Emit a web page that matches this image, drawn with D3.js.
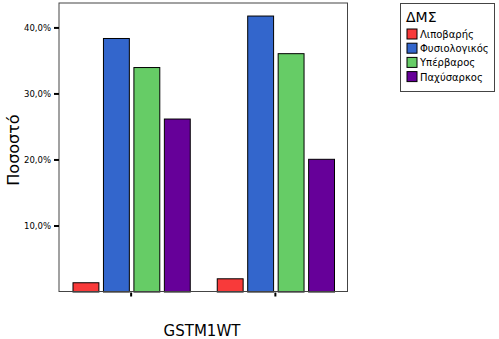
<!DOCTYPE html>
<html>
<head>
<meta charset="utf-8">
<script src="https://cdn.jsdelivr.net/npm/d3@7"></script>
<style>
  html, body { margin: 0; padding: 0; background: #fff; }
  svg { display: block; }
  text { font-family: "DejaVu Sans", Verdana, sans-serif; }
</style>
</head>
<body>
<svg id="chart" width="499" height="339"></svg>
<script>
// Categories on the x axis (one cluster per category)
const categories = ["GSTM1WT-a", "GSTM1WT-b"];
// BMI groups (legend entries) and their colours
const groups = ["Λιποβαρής", "Φυσιολογικός", "Υπέρβαρος", "Παχύσαρκος"];
const groupColors = ["#f83a3a", "#3366cc", "#66cc66", "#660099"];
// Percentage per group, one array per cluster
const cluster1 = [1.4, 38.4, 34.0, 26.2];
const cluster2 = [2.0, 41.8, 36.1, 20.1];
const seriesValues = [cluster1, cluster2];
// Y ticks
const yTicks = [10, 20, 30, 40];

const svg = d3.select("#chart");
const plot = { left: 59, top: 3, right: 347.5, bottom: 291.5 };

const x = d3.scaleBand().domain(categories).range([plot.left, plot.right]).paddingInner(0).paddingOuter(0);
const xInner = d3.scaleBand().domain(groups).range([13.5, x.bandwidth() - 13.5]).paddingInner(0.15).paddingOuter(0);
const y = d3.scaleLinear().domain([0, 43.7]).range([plot.bottom, plot.top]);

// Bars
categories.forEach((c, ci) => {
  svg.append("g").selectAll("rect")
    .data(seriesValues[ci].map((v, gi) => ({ g: groups[gi], v, color: groupColors[gi] })))
    .join("rect")
    .attr("x", d => x(c) + xInner(d.g) + 0.5)
    .attr("y", d => y(d.v) + 0.5)
    .attr("width", xInner.bandwidth())
    .attr("height", d => plot.bottom - y(d.v))
    .attr("fill", d => d.color)
    .attr("stroke", "#000")
    .attr("stroke-width", 1);
});

// Frame
svg.append("rect")
  .attr("x", plot.left).attr("y", plot.top)
  .attr("width", plot.right - plot.left).attr("height", plot.bottom - plot.top)
  .attr("fill", "none").attr("stroke", "#444").attr("stroke-width", 1);

// Y axis
const yAxis = d3.axisLeft(y).tickValues(yTicks).tickSize(5).tickPadding(3)
  .tickFormat(d => d3.format(".1f")(d).replace(".", ",") + "%");
const gy = svg.append("g").attr("transform", `translate(${plot.left},0)`).call(yAxis);
gy.select(".domain").remove();
gy.selectAll(".tick line").attr("stroke", "#000").attr("stroke-width", 2);
gy.selectAll(".tick text").attr("font-size", 8.5).attr("fill", "#000");

// X axis ticks (labels hidden; single axis title below)
const xAxis = d3.axisBottom(x).tickSize(5).tickFormat("");
const gx = svg.append("g").attr("transform", `translate(0,${plot.bottom})`).call(xAxis);
gx.select(".domain").remove();
gx.selectAll(".tick line").attr("stroke", "#000").attr("stroke-width", 2).attr("y1", 1);

// Axis titles
svg.append("text")
  .attr("x", 202).attr("y", 336)
  .attr("text-anchor", "middle").attr("font-size", 15).attr("fill", "#000")
  .text("GSTM1WT");
svg.append("text")
  .attr("transform", "translate(18.5,150) rotate(-90)")
  .attr("text-anchor", "middle").attr("font-size", 16).attr("fill", "#000")
  .text("Ποσοστό");

// Legend
const lg = svg.append("g");
lg.append("rect").attr("x", 400.5).attr("y", 3.5).attr("width", 94).attr("height", 88)
  .attr("fill", "#fff").attr("stroke", "#444");
lg.append("text").attr("x", 406).attr("y", 22).attr("font-size", 14).attr("fill", "#000").text("ΔΜΣ");
groups.forEach((g, i) => {
  const yy = 29 + i * 14.2;
  lg.append("rect").attr("x", 407).attr("y", yy).attr("width", 10).attr("height", 10)
    .attr("fill", groupColors[i]).attr("stroke", "#000");
  lg.append("text").attr("x", 420).attr("y", yy + 9).attr("font-size", 10).attr("fill", "#000").text(g);
});
</script>
</body>
</html>
